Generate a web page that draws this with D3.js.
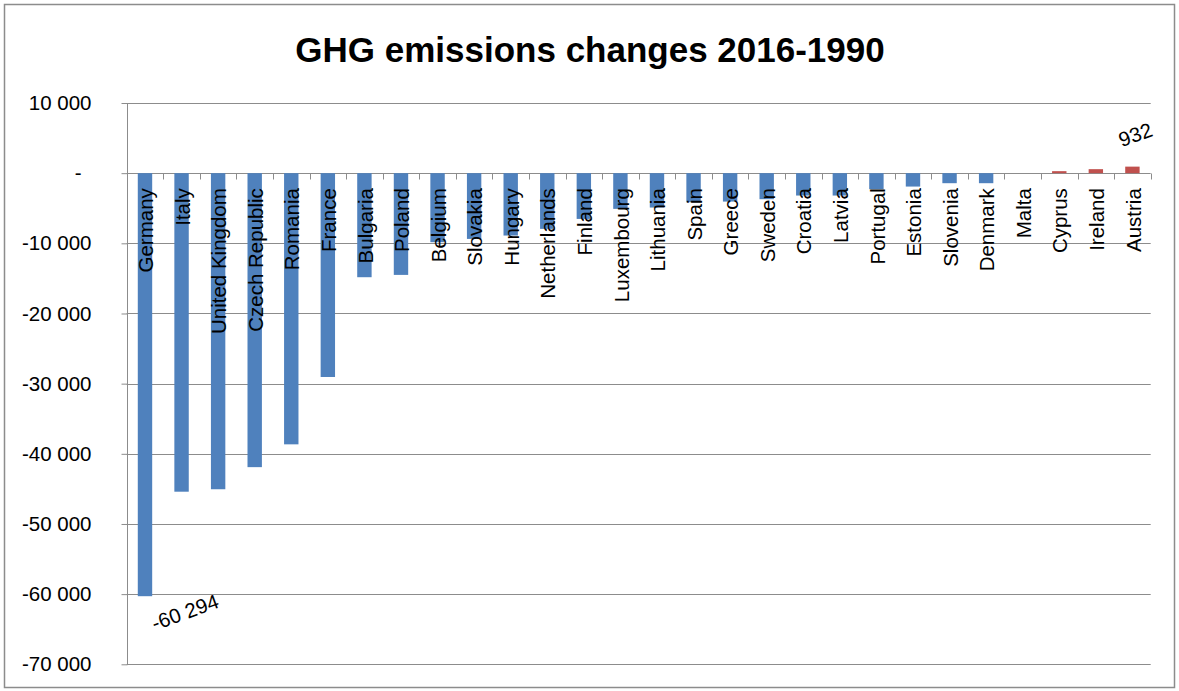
<!DOCTYPE html>
<html>
<head>
<meta charset="utf-8">
<script src="https://cdn.jsdelivr.net/npm/d3@7"></script>
<style>
  html, body { margin: 0; padding: 0; background: #fff; }
  svg { display: block; }
  text { font-family: "Liberation Sans", Arial, sans-serif; fill: #000; }
</style>
</head>
<body>
<svg id="chart" width="1179" height="691"></svg>
<script>
const categories = ["Germany","Italy","United Kingdom","Czech Republic","Romania","France","Bulgaria","Poland","Belgium","Slovakia","Hungary","Netherlands","Finland","Luxembourg","Lithuania","Spain","Greece","Sweden","Croatia","Latvia","Portugal","Estonia","Slovenia","Denmark","Malta","Cyprus","Ireland","Austria"];
const values = [-60294,-45400,-45050,-41900,-38650,-29050,-14830,-14500,-9840,-9370,-8890,-7940,-6520,-5090,-4900,-4140,-4050,-3710,-3190,-3190,-2280,-1910,-1430,-1430,0,285,570,932];
const yTicks = [10000,0,-10000,-20000,-30000,-40000,-50000,-60000,-70000];
const labelledValues = ["Germany","Austria"];
const titleText = "GHG emissions changes 2016-1990";

const svg = d3.select("#chart");
const W = 1179, H = 691;
const plot = {left: 126.7, right: 1150.7, top: 103, bottom: 664.3};

svg.append("rect").attr("x", 4.5).attr("y", 4.5).attr("width", W - 9).attr("height", H - 8)
  .attr("fill", "#fff").attr("stroke", "#8c8c8c").attr("stroke-width", 1.5);

svg.append("text").attr("x", 590).attr("y", 62).attr("text-anchor", "middle")
  .attr("font-size", 35).attr("font-weight", "bold").text(titleText);

const xBand = d3.scaleBand().domain(categories).range([plot.left, plot.right]);
const y = d3.scaleLinear().domain([-70000, 10000]).range([plot.bottom, plot.top]);

const locale = d3.formatLocale({decimal: ",", thousands: "\u00a0", grouping: [3], minus: "-"});
const fmt = locale.format(",d");

// gridlines
svg.append("g").selectAll("line").data(yTicks).join("line")
  .attr("x1", plot.left).attr("x2", plot.right)
  .attr("y1", d => Math.round(y(d)) + 0.5).attr("y2", d => Math.round(y(d)) + 0.5)
  .attr("stroke", "#8c8c8c").attr("stroke-width", 1);

// y axis
const yAxis = svg.append("g").attr("transform", `translate(${Math.round(plot.left) + 0.5},0)`)
  .call(d3.axisLeft(y).tickValues(yTicks).tickSize(6).tickPadding(30)
    .tickFormat(d => d === 0 ? "-" : fmt(d)));
yAxis.select(".domain").attr("stroke", "#8c8c8c").attr("d", `M0,${y(10000)}V${y(-70000)}`);
yAxis.selectAll(".tick line").attr("stroke", "#8c8c8c");
yAxis.selectAll(".tick text").attr("font-size", 20.5).attr("font-family", "Liberation Sans, Arial, sans-serif")
  .attr("fill", "#000")
  .attr("dx", d => d === 0 ? -10 : 0);

// bars
svg.append("g").selectAll("rect").data(categories).join("rect")
  .attr("x", (d) => xBand(d) + xBand.bandwidth() / 2 - 7.2)
  .attr("width", 14.4)
  .attr("y", (d, i) => y(Math.max(0, values[i])))
  .attr("height", (d, i) => Math.abs(y(values[i]) - y(0)))
  .attr("fill", (d, i) => values[i] >= 0 ? "#C0504D" : "#4F81BD");

// category axis ticks at zero
const x0 = Math.round(y(0)) + 0.5;
svg.append("g").selectAll("line").data(categories).join("line")
  .attr("x1", d => Math.round(xBand(d) + xBand.bandwidth()) + 0.5)
  .attr("x2", d => Math.round(xBand(d) + xBand.bandwidth()) + 0.5)
  .attr("y1", x0).attr("y2", x0 + 6)
  .attr("stroke", "#8c8c8c");

// category labels
svg.append("g").selectAll("text").data(categories).join("text")
  .attr("transform", d => `translate(${xBand(d) + xBand.bandwidth() / 2 + 1},${y(0) + 15}) rotate(-90)`)
  .attr("text-anchor", "end").attr("dy", "0.35em")
  .attr("font-size", 20.5).text(d => d);

// data labels
const lbl = svg.append("g");
categories.forEach((c, i) => {
  if (!labelledValues.includes(c)) return;
  const v = values[i];
  const cx = xBand(c) + xBand.bandwidth() / 2;
  const cy = v < 0 ? y(v) + 16 : y(v) - 32;
  const dxShift = v < 0 ? 40 : 3;
  lbl.append("text")
    .attr("transform", `translate(${cx + dxShift},${cy}) rotate(-20)`)
    .attr("text-anchor", "middle").attr("dy", "0.35em")
    .attr("font-size", 20.5).text(fmt(v));
});
</script>
</body>
</html>
